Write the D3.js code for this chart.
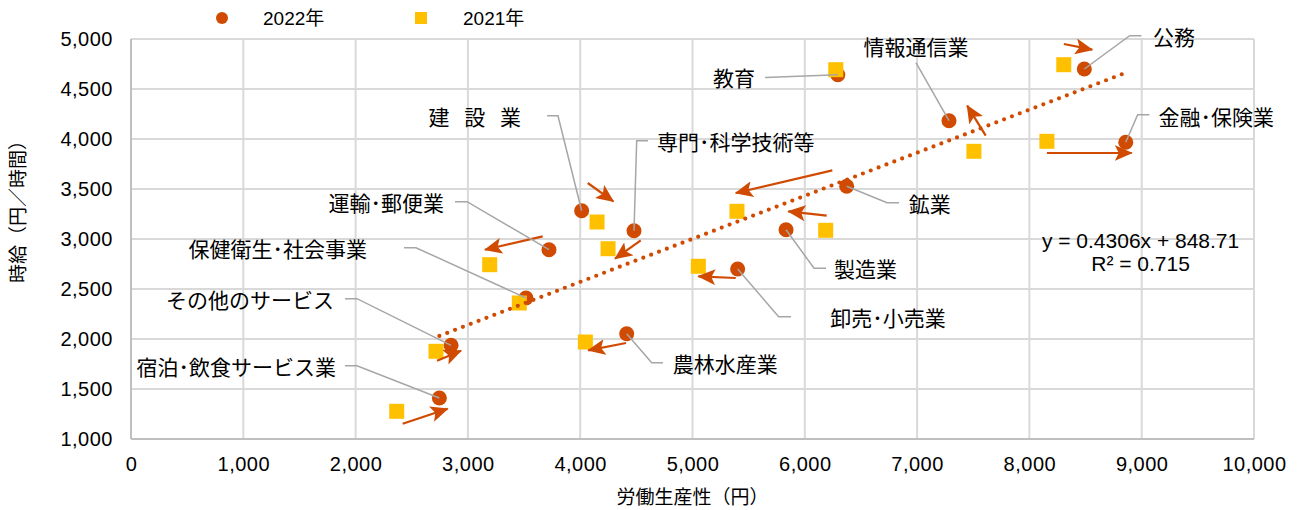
<!DOCTYPE html>
<html>
<head>
<meta charset="utf-8">
<script src="https://cdn.jsdelivr.net/npm/d3@7"></script>
<style>
  body { margin: 0; background: #fff; }
  svg text { font-family: "Liberation Sans", Arial, "Noto Sans CJK JP", sans-serif; fill: #000; }
</style>
</head>
<body>
<div id="chart"></div>
<script>
// industries, 2022 and 2021 values (labour productivity, hourly wage)
const industries = ["宿泊･飲食サービス業", "その他のサービス", "保健衛生･社会事業", "運輸･郵便業", "建設業",
  "専門･科学技術等", "農林水産業", "卸売･小売業", "製造業", "鉱業", "教育", "情報通信業", "公務", "金融･保険業"];
const prod2022 = [2746, 2850, 3517, 3722, 4013, 4479, 4414, 5402, 5833, 6373, 6294, 7284, 8489, 8858];
const wage2022 = [1410, 1937, 2410, 2893, 3283, 3083, 2053, 2700, 3093, 3527, 4643, 4183, 4700, 3967];
const prod2021 = [2366, 2716, 3458, 3194, 4150, 4248, 4046, 5052, 6186, 5396, 6276, 7506, 8306, 8156];
const wage2021 = [1277, 1877, 2360, 2743, 3170, 2903, 1970, 2727, 3087, 3277, 4693, 3877, 4743, 3977];

const xTicks = [0, 1000, 2000, 3000, 4000, 5000, 6000, 7000, 8000, 9000, 10000];
const yTicks = [1000, 1500, 2000, 2500, 3000, 3500, 4000, 4500, 5000];
const seriesNames = ["2022年", "2021年"];

const slope = 0.4306, intercept = 848.71, r2 = 0.715;

// change arrows [x1, y1, x2, y2] in data units
const arrows = [
  [2419, 1153, 2820, 1303],
  [2725, 1783, 2939, 1883],
  [3666, 3026, 3152, 2893],
  [4067, 3560, 4295, 3376],
  [4539, 2986, 4310, 2803],
  [6245, 3686, 5385, 3460],
  [6195, 3233, 5853, 3276],
  [5385, 2610, 5052, 2626],
  [4408, 1960, 4072, 1886],
  [7611, 4033, 7446, 4333],
  [8307, 4950, 8560, 4893],
  [8156, 3860, 8911, 3860]
];

// callouts: label anchor + leader elbow points (data units), index into industries
const callouts = [
  { i: 0, lx: 1825, ly: 1733, anchor: "end", pts: [[1906, 1733], [2012, 1733]] },
  { i: 1, lx: 1808, ly: 2403, anchor: "end", pts: [[1906, 2403], [2012, 2403]] },
  { i: 2, lx: 2102, ly: 2913, anchor: "end", pts: [[2431, 2913], [2538, 2913]] },
  { i: 3, lx: 2787, ly: 3373, anchor: "end", pts: [[2885, 3373], [2992, 3373]] },
  { i: 4, lx: 3473, ly: 4233, anchor: "end", pts: [[3705, 4233], [3802, 4233]], text: "建\u2002\u2009設\u2002\u2009業" },
  { i: 5, lx: 4684, ly: 3983, anchor: "start", pts: [[4604, 3983], [4503, 3983]] },
  { i: 6, lx: 4824, ly: 1763, anchor: "start", pts: [[4737, 1763], [4637, 1763]] },
  { i: 7, lx: 6226, ly: 2223, anchor: "start", pts: [[5877, 2223], [5767, 2223]] },
  { i: 8, lx: 6260, ly: 2708, anchor: "start", pts: [[6189, 2708], [6082, 2708]] },
  { i: 9, lx: 6926, ly: 3363, anchor: "start", pts: [[6839, 3363], [6732, 3363]] },
  { i: 10, lx: 5557, ly: 4623, anchor: "end", pts: [[5646, 4616]] },
  { i: 11, lx: 6990, ly: 4928, anchor: "middle", pts: [[6990, 4763]] },
  { i: 12, lx: 9101, ly: 5033, anchor: "start", pts: [[8998, 5033], [8893, 5033]] },
  { i: 13, lx: 9150, ly: 4233, anchor: "start", pts: [[9069, 4243], [8964, 4243]] }
];

const W = 1298, H = 510;
const margin = { top: 39, right: 44, bottom: 71, left: 131 };
const cOrange = "#D04A02", cGold = "#FFC000";

const svg = d3.select("#chart").append("svg")
  .attr("width", W).attr("height", H);

const x = d3.scaleLinear().domain([0, 10000]).range([margin.left, W - margin.right]);
const y = d3.scaleLinear().domain([1000, 5000]).range([H - margin.bottom, margin.top]);

// grid
svg.append("g").selectAll("line.vx").data(xTicks).enter().append("line")
  .attr("x1", d => x(d)).attr("x2", d => x(d))
  .attr("y1", y(1000)).attr("y2", y(5000))
  .attr("stroke", "#D9D9D9").attr("stroke-width", 2);
svg.append("g").selectAll("line.hy").data(yTicks).enter().append("line")
  .attr("x1", x(0)).attr("x2", x(10000))
  .attr("y1", d => y(d)).attr("y2", d => y(d))
  .attr("stroke", "#D9D9D9").attr("stroke-width", 2);
svg.append("line").attr("x1", x(0)).attr("x2", x(10000)).attr("y1", y(1000)).attr("y2", y(1000))
  .attr("stroke", "#BFBFBF").attr("stroke-width", 2);
svg.append("line").attr("x1", x(0)).attr("x2", x(0)).attr("y1", y(1000)).attr("y2", y(5000))
  .attr("stroke", "#BFBFBF").attr("stroke-width", 2);

// axes
const fmt = d3.format(",");
const xAxis = svg.append("g").attr("transform", `translate(0,${y(1000)})`)
  .call(d3.axisBottom(x).tickValues(xTicks).tickFormat(fmt).tickSize(0).tickPadding(18));
const yAxis = svg.append("g").attr("transform", `translate(${x(0)},0)`)
  .call(d3.axisLeft(y).tickValues(yTicks).tickFormat(fmt).tickSize(0).tickPadding(18));
[xAxis, yAxis].forEach(a => {
  a.select(".domain").remove();
  a.selectAll("text").attr("font-size", 20).attr("fill", "#000")
    .attr("letter-spacing", 0.5)
    .style("font-family", '"Liberation Sans", Arial, sans-serif');
});

svg.append("text").attr("x", (x(0) + x(10000)) / 2).attr("y", 497)
  .attr("text-anchor", "middle").attr("dominant-baseline", "central")
  .attr("font-size", 19).text("労働生産性（円）");
svg.append("text").attr("transform", "translate(18,207) rotate(-90)")
  .attr("text-anchor", "middle").attr("dominant-baseline", "central")
  .attr("font-size", 19).text("時給（円／時間）");

// 2022 circles
svg.append("g").selectAll("circle").data(industries).enter().append("circle")
  .attr("cx", (d, i) => x(prod2022[i])).attr("cy", (d, i) => y(wage2022[i]))
  .attr("r", 7.5).attr("fill", cOrange);

// 2021 squares
svg.append("g").selectAll("rect").data(industries).enter().append("rect")
  .attr("x", (d, i) => x(prod2021[i]) - 7.5).attr("y", (d, i) => y(wage2021[i]) - 7.5)
  .attr("width", 15).attr("height", 15).attr("fill", cGold);

// trendline
const xmin = d3.min(prod2022), xmax = d3.max(prod2022);
svg.append("line")
  .attr("x1", x(xmin)).attr("y1", y(slope * xmin + intercept))
  .attr("x2", x(xmax)).attr("y2", y(slope * xmax + intercept))
  .attr("stroke", cOrange).attr("stroke-width", 4.2)
  .attr("stroke-linecap", "round").attr("stroke-dasharray", "0,8.4");

// arrows
svg.append("defs").append("marker")
  .attr("id", "head").attr("markerUnits", "userSpaceOnUse")
  .attr("markerWidth", 18).attr("markerHeight", 16)
  .attr("refX", 17).attr("refY", 8).attr("orient", "auto")
  .append("path").attr("d", "M0,0 L18,8 L0,16 L4,8 Z").attr("fill", cOrange);
svg.append("g").selectAll("line").data(arrows).enter().append("line")
  .attr("x1", d => x(d[0])).attr("y1", d => y(d[1]))
  .attr("x2", d => x(d[2])).attr("y2", d => y(d[3]))
  .attr("stroke", cOrange).attr("stroke-width", 2.2)
  .attr("marker-end", "url(#head)");

// leader lines
const line = d3.line().x(d => x(d[0])).y(d => y(d[1]));
svg.append("g").selectAll("path").data(callouts).enter().append("path")
  .attr("d", c => line(c.pts.concat([[prod2022[c.i], wage2022[c.i]]])))
  .attr("fill", "none").attr("stroke", "#A6A6A6").attr("stroke-width", 1.5);

svg.append("g").selectAll("text").data(callouts).enter().append("text")
  .attr("x", c => x(c.lx)).attr("y", c => y(c.ly))
  .attr("text-anchor", c => c.anchor).attr("dominant-baseline", "central")
  .attr("font-size", 21)
  .style("font-family", '"Noto Sans CJK JP", sans-serif')
  .text(c => c.text || industries[c.i]);

// regression label
svg.append("text").attr("x", x(8990)).attr("y", y(2990))
  .attr("text-anchor", "middle").attr("dominant-baseline", "central").attr("font-size", 21)
  .text(`y = ${slope}x + ${intercept}`);
svg.append("text").attr("x", x(8990)).attr("y", y(2760))
  .attr("text-anchor", "middle").attr("dominant-baseline", "central").attr("font-size", 21)
  .text(`R² = ${r2}`);

// legend
const legend = svg.append("g");
legend.append("circle").attr("cx", 222).attr("cy", 18).attr("r", 6).attr("fill", cOrange);
legend.append("rect").attr("x", 415).attr("y", 12).attr("width", 12).attr("height", 12).attr("fill", cGold);
legend.selectAll("text").data(seriesNames).enter().append("text")
  .attr("x", (d, i) => i === 0 ? 263 : 463).attr("y", 18)
  .attr("dominant-baseline", "central").attr("font-size", 19).text(d => d);
</script>
</body>
</html>
